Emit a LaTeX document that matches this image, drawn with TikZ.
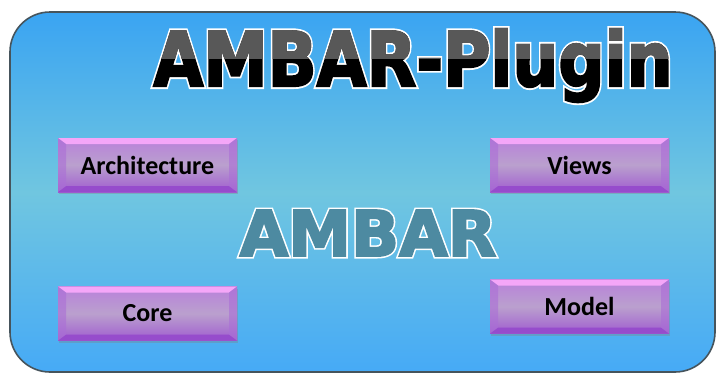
\documentclass[tikz,border=0pt]{standalone}
\usepackage{fontspec}
\setmainfont{Carlito}
\newfontfamily\titlefont{DejaVu Sans Bold}[FakeBold=3]
\newfontfamily\titlerim{DejaVu Sans Bold}[FakeBold=8]
\usetikzlibrary{positioning,shadows}
\definecolor{panelTop}{RGB}{58,164,242}
\definecolor{panelMid}{RGB}{112,198,224}
\definecolor{panelBot}{RGB}{70,170,246}
\definecolor{panelEdge}{RGB}{70,84,92}
\definecolor{modTop}{RGB}{184,128,218}
\definecolor{modMid}{RGB}{186,160,206}
\definecolor{modBot}{RGB}{160,92,208}
\definecolor{bevelHi}{RGB}{244,166,248}
\definecolor{bevelLo}{RGB}{150,76,204}
\definecolor{bevelSide}{RGB}{170,110,214}
\definecolor{titleGrey}{RGB}{88,88,88}
\definecolor{coreBlue}{RGB}{77,138,161}

\begin{document}
\begin{tikzpicture}[x=1pt,y=-1pt,
  every node/.style={font=\fontsize{26}{28}\selectfont\bfseries},
  panel/.style={draw=panelEdge,line width=1.6pt,rounded corners=40pt,top color=panelTop,bottom color=panelBot,middle color=panelMid,minimum width=705pt,minimum height=360pt,inner sep=0pt},
  modbox/.style={top color=modTop,bottom color=modBot,middle color=modMid,minimum width=179pt,minimum height=54pt,inner sep=0pt,
    drop shadow={shadow xshift=1pt,shadow yshift=-2pt,opacity=.35},
    path picture={
      \fill[bevelHi] (path picture bounding box.north west) -- (path picture bounding box.north east)
        -- ([xshift=-8pt,yshift=-6pt]path picture bounding box.north east) -- ([xshift=8pt,yshift=-6pt]path picture bounding box.north west) -- cycle;
      \fill[bevelLo] (path picture bounding box.south west) -- (path picture bounding box.south east)
        -- ([xshift=-8pt,yshift=6pt]path picture bounding box.south east) -- ([xshift=8pt,yshift=6pt]path picture bounding box.south west) -- cycle;
      \fill[bevelSide,opacity=.6] (path picture bounding box.north west) -- ([xshift=8pt,yshift=-6pt]path picture bounding box.north west)
        -- ([xshift=8pt,yshift=6pt]path picture bounding box.south west) -- (path picture bounding box.south west) -- cycle;
      \fill[bevelSide,opacity=.6] (path picture bounding box.north east) -- ([xshift=-8pt,yshift=-6pt]path picture bounding box.north east)
        -- ([xshift=-8pt,yshift=6pt]path picture bounding box.south east) -- (path picture bounding box.south east) -- cycle;
    }},
  bigword/.style={font=\titlefont\fontsize{75}{75}\selectfont,inner sep=0pt,anchor=base},
  rim/.style={font=\titlerim\fontsize{75}{75}\selectfont,text=white}]
\useasboundingbox[fill=white] (0,0) rectangle (719,375);
\node[panel] (frame) at (362.5,192) {};
% title: white rim, black lower half, grey upper half
\node[bigword,rim,xscale=.86] (titlerim) at (413,86) {AMBAR-Plugin};
\node[bigword,xscale=.86,text=black] (title) at (413,86) {AMBAR-Plugin};
\begin{scope}
  \clip (100,0) rectangle (719,58);
  \node[bigword,xscale=.86,text=titleGrey] (titletop) at (413,86) {AMBAR-Plugin};
\end{scope}
\node[bigword,rim,font=\titlerim\fontsize{63}{63}\selectfont] (ambarrim) at (368,256) {AMBAR};
\node[bigword,font=\titlefont\fontsize{63}{63}\selectfont,text=coreBlue] (ambar) at (368,256) {AMBAR};
% modules
\node[modbox] (arch) at (147.5,165) {Architecture};
\node[modbox] (views) at (579.5,165) {Views};
\node[modbox] (core) at (147.5,313.5) {Core};
\node[modbox] (model) at (579.5,306.5) {Model};
\end{tikzpicture}
\end{document}
